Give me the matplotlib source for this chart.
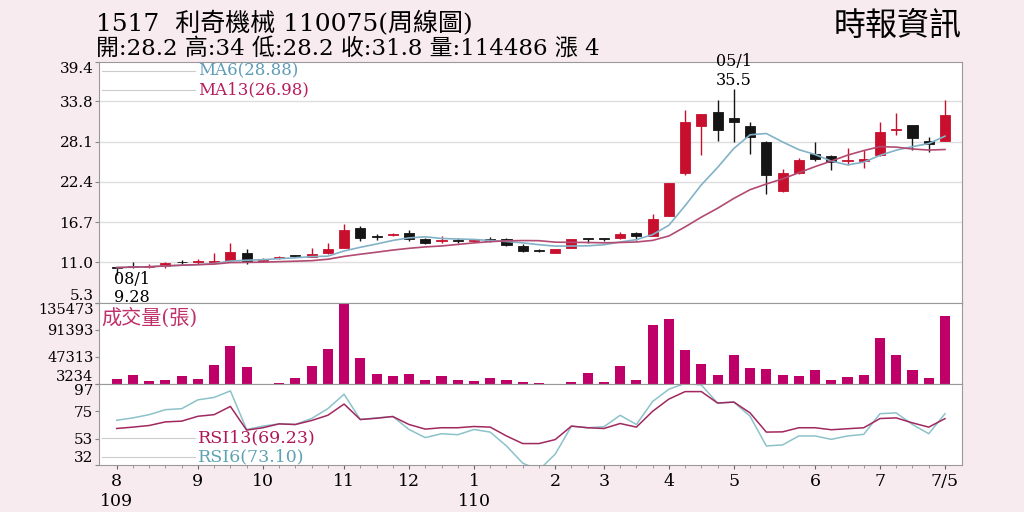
import numpy as np
import pandas as pd
import matplotlib
matplotlib.use("Agg")
import matplotlib.pyplot as plt

plt.rcParams['font.family'] = ['DejaVu Serif', 'Noto Sans CJK TC']

# weekly candles 109/08 ~ 110/07/05
opens = [10.3, 10.4, 10.4, 10.52, 11.05, 11.05, 11.1, 11.4, 12.4, 11.25,
         11.6, 11.95, 11.8, 12.3, 13.1, 15.9, 14.6, 14.85, 15.1, 14.3,
         14.1, 14.1, 14.0, 14.3, 14.25, 13.35, 12.7, 12.4, 13.1, 14.4,
         14.4, 14.4, 15.1, 14.8, 17.6, 23.6, 30.3, 32.35, 31.5, 30.3,
         28.0, 21.1, 23.6, 26.35, 26.0, 25.3, 25.3, 26.2, 29.7, 30.4,
         28.2, 28.2]
closes = [10.28, 10.38, 10.5, 10.86, 11.0, 11.1, 11.2, 12.5, 11.2, 11.35,
          11.8, 11.9, 12.15, 12.9, 15.6, 14.5, 14.58, 14.95, 14.3, 13.8,
          14.2, 14.05, 14.2, 14.05, 13.45, 12.65, 12.65, 12.85, 14.25, 14.25,
          14.35, 14.95, 14.7, 17.1, 22.2, 30.9, 32.0, 29.75, 30.8, 28.7,
          23.3, 23.7, 25.5, 25.6, 25.2, 25.5, 25.6, 29.5, 29.9, 28.6,
          27.8, 31.8]
highs = [10.37, 11.1, 10.8, 11.1, 11.3, 11.5, 12.3, 13.7, 12.85, 11.6,
         11.9, 12.1, 13.0, 13.8, 16.4, 16.2, 15.0, 15.1, 15.6, 14.5,
         14.8, 14.4, 14.3, 14.6, 14.4, 13.55, 12.95, 12.95, 14.3, 14.5,
         14.5, 15.3, 15.3, 17.9, 22.3, 32.5, 32.0, 34.0, 35.5, 30.8,
         28.2, 24.2, 25.8, 28.1, 26.2, 27.2, 26.9, 30.8, 32.2, 30.5,
         28.8, 34.0]
lows = [9.28, 10.15, 10.2, 10.2, 10.7, 10.8, 10.9, 11.3, 10.8, 11.0,
        11.55, 11.7, 11.7, 12.2, 13.0, 14.0, 14.2, 14.8, 14.1, 13.6,
        13.7, 13.8, 13.9, 13.9, 13.3, 12.5, 12.45, 12.3, 13.0, 13.8,
        14.0, 14.3, 14.2, 14.7, 17.5, 23.4, 26.2, 28.2, 28.1, 26.3,
        20.7, 21.0, 23.5, 25.35, 24.1, 24.8, 24.3, 26.1, 29.05, 26.9,
        26.6, 28.2]
volumes = [11400, 17400, 7600, 10300, 16300, 11900, 34700, 65800, 30500, 3234,
           4900, 12500, 32600, 59900, 135473, 45700, 19600, 16300, 19600, 10300,
           15800, 9800, 7600, 13000, 9200, 6500, 4300, 3234, 6500, 21700,
           6500, 32600, 10300, 99000, 108300, 59300, 35900, 17400, 51100, 28800,
           27200, 17400, 15800, 26100, 10300, 15200, 18500, 77800, 50600, 26100,
           13000, 114486]
rsi6 = [67.9, 69.8, 72.4, 76.4, 77.2, 84.3, 86.2, 91.5, 60.5, 63.2,
        65, 64.5, 69.3, 77.2, 88.8, 68.5, 69.8, 70.9, 60.5, 54,
        57.1, 56.3, 60.5, 58.4, 47.3, 33.5, 28, 40.7, 63.2, 61.9,
        62.7, 71.9, 64.5, 83, 92.8, 97.5, 96.2, 81.7, 82.5, 71.1,
        47.3, 48.1, 55.3, 55.3, 52.6, 55.3, 56.6, 73.2, 73.8, 64.5,
        57.1, 73.1]
rsi13 = [61.3, 62.4, 63.7, 66.6, 67.2, 71.1, 72.4, 79, 60, 61.9,
         65, 64.5, 67.7, 71.9, 80.9, 68.5, 69.5, 70.9, 64.5, 60.8,
         61.9, 61.9, 62.9, 62.4, 55.3, 49.2, 49.2, 52.4, 63.2, 61.9,
         61.3, 65.3, 62.4, 75.1, 84.9, 90.9, 90.9, 81.7, 82.5, 73.8,
         58.4, 58.6, 61.9, 61.9, 60.3, 61.1, 61.9, 69.3, 69.8, 65.8,
         62.4, 69.2]

month_pos = [0, 5, 9, 14, 18, 22, 27, 30, 34, 38, 43, 47, 51]
month_labels = ['8', '9', '10', '11', '12', '1', '2', '3', '4', '5', '6', '7', '7/5']
price_ticks = [5.3, 11.0, 16.7, 22.4, 28.1, 33.8, 39.4]
vol_ticks = [3234, 47313, 91393, 135473]
rsi_ticks = [32, 53, 75, 97]

RED = '#c8102e'
BLK = '#151515'
VOLC = '#bf0068'
BG = '#f8ebf0'

df = pd.DataFrame({'o': opens, 'c': closes, 'h': highs, 'l': lows})
ma6 = df['c'].rolling(6, min_periods=1).mean()
ma13 = df['c'].rolling(13, min_periods=1).mean()
x = np.arange(len(df))

fig = plt.figure(figsize=(10.24, 5.12), dpi=100, facecolor=BG)
L, W = 99 / 1024, 862.7 / 1024
ax1 = fig.add_axes([L, 1 - 302.7 / 512, W, 241 / 512])
ax2 = fig.add_axes([L, 1 - 384 / 512, W, 81.3 / 512], sharex=ax1)
ax3 = fig.add_axes([L, 1 - 465 / 512, W, 81 / 512], sharex=ax1)

for ax in (ax1, ax2, ax3):
    ax.set_facecolor('white')
    for s in ax.spines.values():
        s.set_color('#999999')
    ax.tick_params(axis='y', length=3, color='#888888', labelsize=11, pad=1)

# price panel
for t in price_ticks[1:-1]:
    ax1.axhline(t, color='#dedede', lw=1, zorder=0)
colors = [RED if c >= o else BLK for o, c in zip(opens, closes)]
ax1.vlines(x, df['l'], df['h'], colors=colors, lw=1, zorder=2)
body = (df['c'] - df['o']).abs().clip(lower=0.12)
ax1.bar(x, body, bottom=df[['o', 'c']].min(axis=1), width=0.62,
        color=colors, edgecolor=colors, lw=0.6, zorder=3)
ax1.plot(x, ma6, color='#82b2c8', lw=1.2, zorder=4)
ax1.plot(x, ma13, color='#b24a72', lw=1.2, zorder=4)
ax1.set_ylim(5.3, 39.4)
ax1.set_yticks(price_ticks)
ax1.set_yticklabels(['%.1f' % t for t in price_ticks])
ax1.get_yticklabels()[0].set_va('bottom')
ax1.get_yticklabels()[-1].set_va('top')
ax1.set_xlim(-1.09, 52.03)
ax1.tick_params(axis='x', bottom=False, labelbottom=False)

ax1.plot([-0.9, 4.8], [38.15, 38.15], color='#cccccc', lw=0.8)
ax1.plot([-0.9, 4.8], [35.45, 35.45], color='#cccccc', lw=0.8)
ax1.text(5.0, 38.15, 'MA6(28.88)', color='#5c9cb8', fontsize=12, va='center')
ax1.text(5.0, 35.45, 'MA13(26.98)', color='#b81c5c', fontsize=12, va='center')
ax1.text(-0.15, 8.55, '08/1', fontsize=11.5, va='center')
ax1.text(-0.15, 6.05, '9.28', fontsize=11.5, va='center')
ax1.text(38.0, 39.4, '05/1', fontsize=11.5, va='center', ha='center')
ax1.text(38.0, 36.8, '35.5', fontsize=11.5, va='center', ha='center')

# volume panel
ax2.bar(x, volumes, width=0.62, color=VOLC, zorder=2)
ax2.set_ylim(3234, 135473)
ax2.set_yticks(vol_ticks)
ax2.set_yticklabels([str(v) for v in vol_ticks])
ax2.tick_params(axis='y', labelsize=10.5)
ax2.get_yticklabels()[0].set_va('bottom')
ax2.get_yticklabels()[-1].set_va('top')
ax2.tick_params(axis='x', bottom=False, labelbottom=False)
ax2.text(-0.95, 111000, '成交量(張)', color='#c0306a', fontsize=14.5, va='center')

# rsi panel
ax3.plot(x, rsi13, color='#a0285e', lw=1.1, zorder=3)
ax3.plot(x, rsi6, color='#8cc2ca', lw=1.1, zorder=2)
ax3.set_ylim(32, 97)
ax3.set_yticks(rsi_ticks)
ax3.set_yticklabels([str(v) for v in rsi_ticks])
ax3.get_yticklabels()[0].set_va('bottom')
ax3.get_yticklabels()[-1].set_va('top')
ax3.plot([-0.9, 4.8], [53.7, 53.7], color='#cccccc', lw=0.8)
ax3.plot([-0.9, 4.8], [38.6, 38.6], color='#cccccc', lw=0.8)
ax3.text(5.0, 53.7, 'RSI13(69.23)', color='#b0185a', fontsize=12.5, va='center')
ax3.text(5.0, 38.6, 'RSI6(73.10)', color='#5fa2b2', fontsize=12.5, va='center')

ax3.set_xticks(month_pos)
ax3.set_xticklabels(month_labels)
ax3.set_xticks(x, minor=True)
ax3.tick_params(axis='x', which='major', direction='out', length=3, labelsize=12.5, pad=3, color='#666666')
ax3.tick_params(axis='x', which='minor', direction='out', length=2, color='#888888')
ax3.text(0, -0.34, '109', transform=ax3.get_xaxis_transform(), fontsize=12.5, ha='center', va='top')
ax3.text(22, -0.34, '110', transform=ax3.get_xaxis_transform(), fontsize=12.5, ha='center', va='top')

fig.text(96 / 1024, 1 - 31 / 512, '1517  利奇機械 110075(周線圖)', fontsize=18, va='baseline')
fig.text(96 / 1024, 1 - 56 / 512, '開:28.2 高:34 低:28.2 收:31.8 量:114486 漲 4', fontsize=16.5, va='baseline')
fig.text(962 / 1024, 1 - 26 / 512, '時報資訊', fontsize=23, ha='right', va='center')

fig.savefig('out.png', dpi=100, facecolor=BG)
